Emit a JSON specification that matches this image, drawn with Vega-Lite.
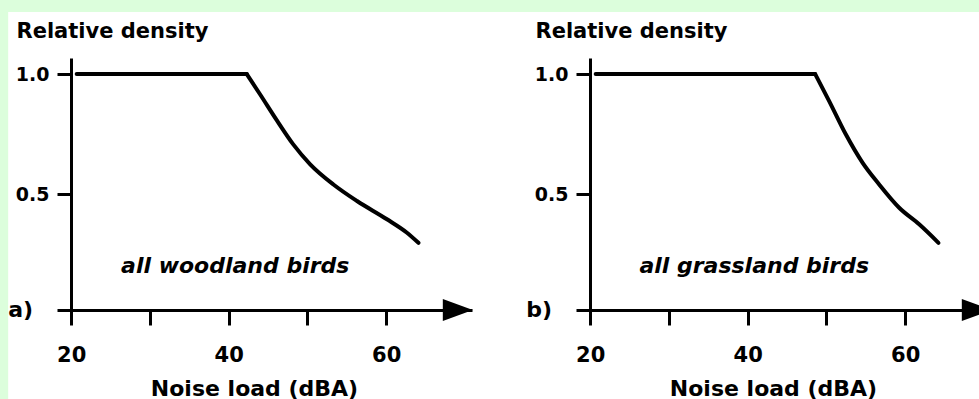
{
  "$schema": "https://vega.github.io/schema/vega-lite/v6.json",
  "background": "#dcfedc",
  "padding": {"left": 8, "top": 11, "right": 0, "bottom": 0},
  "bounds": "flush",
  "spacing": 104,
  "datasets": {
    "curves": [
      {"panel": "a", "segment": "flat", "noise": 20.7, "density": 1.0},
      {"panel": "a", "segment": "flat", "noise": 42.3, "density": 1.0},
      {"panel": "a", "segment": "decline", "noise": 42.3, "density": 1.0},
      {"panel": "a", "segment": "decline", "noise": 44.0, "density": 0.915},
      {"panel": "a", "segment": "decline", "noise": 46.1, "density": 0.808},
      {"panel": "a", "segment": "decline", "noise": 48.2, "density": 0.707},
      {"panel": "a", "segment": "decline", "noise": 50.35, "density": 0.624},
      {"panel": "a", "segment": "decline", "noise": 53.3, "density": 0.54},
      {"panel": "a", "segment": "decline", "noise": 56.3, "density": 0.471},
      {"panel": "a", "segment": "decline", "noise": 60.1, "density": 0.395},
      {"panel": "a", "segment": "decline", "noise": 62.6, "density": 0.34},
      {"panel": "a", "segment": "decline", "noise": 64.1, "density": 0.297},
      {"panel": "b", "segment": "flat", "noise": 20.7, "density": 1.0},
      {"panel": "b", "segment": "flat", "noise": 48.57, "density": 1.0},
      {"panel": "b", "segment": "decline", "noise": 48.57, "density": 1.0},
      {"panel": "b", "segment": "decline", "noise": 50.35, "density": 0.8875},
      {"panel": "b", "segment": "decline", "noise": 52.46, "density": 0.749},
      {"panel": "b", "segment": "decline", "noise": 54.58, "density": 0.631},
      {"panel": "b", "segment": "decline", "noise": 56.7, "density": 0.54},
      {"panel": "b", "segment": "decline", "noise": 59.24, "density": 0.443},
      {"panel": "b", "segment": "decline", "noise": 61.78, "density": 0.374},
      {"panel": "b", "segment": "decline", "noise": 64.23, "density": 0.297}
    ],
    "labels": [
      {"panel": "a", "tag": "a)", "caption": "all woodland birds"},
      {"panel": "b", "tag": "b)", "caption": "all grassland birds"}
    ]
  },
  "config": {
    "view": {"stroke": null},
    "font": "DejaVu Sans",
    "axis": {
      "domainColor": "black",
      "domainWidth": 3,
      "tickColor": "black",
      "tickWidth": 3,
      "labelColor": "black",
      "titleColor": "black",
      "labelFont": "DejaVu Sans",
      "titleFont": "DejaVu Sans",
      "labelFontWeight": "bold",
      "titleFontWeight": "bold",
      "grid": false
    }
  },
  "hconcat": [
    {
      "width": 415,
      "height": 252,
      "layer": [
        {
          "data": {"name": "labels"},
          "transform": [{"filter": "datum.panel === 'a'"}],
          "mark": {"type": "rect", "color": "white", "zindex": 0},
          "encoding": {
            "x": {"datum": 12.0, "type": "quantitative"},
            "x2": {"datum": 140},
            "y": {"datum": 1.2587, "type": "quantitative"},
            "y2": {"datum": -0.5}
          }
        },
        {
          "data": {"name": "curves"},
          "transform": [{"filter": "datum.panel === 'a'"}],
          "mark": {"type": "line", "interpolate": "monotone", "strokeWidth": 4, "color": "black", "strokeCap": "round", "strokeJoin": "miter", "zindex": 2},
          "encoding": {
            "x": {
              "field": "noise", "type": "quantitative",
              "scale": {"domain": [18.2, 70.9], "nice": false, "zero": false},
              "axis": {
                "zindex": 1,
                "title": "Noise load (dBA)",
                "values": [20, 30, 40, 50, 60],
                "format": "d",
                "labelExpr": "datum.value % 20 === 0 ? datum.label : ''",
                "tickSize": 15,
                "labelPadding": 36,
                "labelBaseline": "alphabetic",
                "labelFontSize": 21,
                "labelFlush": false,
                "labelOverlap": false,
                "titleFontSize": 22,
                "titleX": 197,
                "titleY": 85,
                "titleAlign": "center",
                "titleBaseline": "alphabetic"
              }
            },
            "y": {
              "field": "density", "type": "quantitative",
              "scale": {"domain": [0.017, 1.067], "nice": false, "zero": false},
              "axis": {
                "zindex": 1,
                "title": "Relative density",
                "values": [0.5, 1.0],
                "format": ".1f",
                "offset": -14,
                "tickSize": 14,
                "labelPadding": 8,
                "labelFontSize": 19,
                "labelBaseline": "middle",
                "labelFlush": false,
                "titleFontSize": 21,
                "titleAngle": 0,
                "titleAlign": "left",
                "titleBaseline": "alphabetic",
                "titleX": -55,
                "titleY": -20.5
              }
            },
            "detail": {"field": "segment"}
          }
        },
        {
          "data": {"name": "labels"},
          "transform": [{"filter": "datum.panel === 'a'"}],
          "mark": {"type": "point", "shape": "M-1,-0.73L1,0L-1,0.73Z", "size": 900, "filled": true, "color": "black", "opacity": 1, "zindex": 2},
          "encoding": {
            "x": {"datum": 69.1, "type": "quantitative"},
            "y": {"datum": 0.017, "type": "quantitative"}
          }
        },
        {
          "data": {"name": "labels"},
          "transform": [{"filter": "datum.panel === 'a'"}],
          "mark": {"type": "text", "align": "right", "baseline": "alphabetic", "fontSize": 22, "fontWeight": "bold", "color": "black", "zindex": 2},
          "encoding": {
            "x": {"datum": 15.17, "type": "quantitative"},
            "y": {"datum": -0.012, "type": "quantitative"},
            "text": {"field": "tag"}
          }
        },
        {
          "data": {"name": "labels"},
          "transform": [{"filter": "datum.panel === 'a'"}],
          "mark": {"type": "text", "align": "center", "baseline": "alphabetic", "fontSize": 22, "fontWeight": "bold", "fontStyle": "italic", "color": "black", "zindex": 2},
          "encoding": {
            "x": {"datum": 40.83, "type": "quantitative"},
            "y": {"datum": 0.171, "type": "quantitative"},
            "text": {"field": "caption"}
          }
        }
      ]
    },
    {
      "width": 415,
      "height": 252,
      "layer": [
        {
          "data": {"name": "curves"},
          "transform": [{"filter": "datum.panel === 'b'"}],
          "mark": {"type": "line", "interpolate": "monotone", "strokeWidth": 4, "color": "black", "strokeCap": "round", "strokeJoin": "miter"},
          "encoding": {
            "x": {
              "field": "noise", "type": "quantitative",
              "scale": {"domain": [18.2, 70.9], "nice": false, "zero": false},
              "axis": {
                "zindex": 1,
                "title": "Noise load (dBA)",
                "values": [20, 30, 40, 50, 60],
                "format": "d",
                "labelExpr": "datum.value % 20 === 0 ? datum.label : ''",
                "tickSize": 15,
                "labelPadding": 36,
                "labelBaseline": "alphabetic",
                "labelFontSize": 21,
                "labelFlush": false,
                "labelOverlap": false,
                "titleFontSize": 22,
                "titleX": 197,
                "titleY": 85,
                "titleAlign": "center",
                "titleBaseline": "alphabetic"
              }
            },
            "y": {
              "field": "density", "type": "quantitative",
              "scale": {"domain": [0.017, 1.067], "nice": false, "zero": false},
              "axis": {
                "zindex": 1,
                "title": "Relative density",
                "values": [0.5, 1.0],
                "format": ".1f",
                "offset": -14,
                "tickSize": 14,
                "labelPadding": 8,
                "labelFontSize": 19,
                "labelBaseline": "middle",
                "labelFlush": false,
                "titleFontSize": 21,
                "titleAngle": 0,
                "titleAlign": "left",
                "titleBaseline": "alphabetic",
                "titleX": -55,
                "titleY": -20.5
              }
            },
            "detail": {"field": "segment"}
          }
        },
        {
          "data": {"name": "labels"},
          "transform": [{"filter": "datum.panel === 'b'"}],
          "mark": {"type": "point", "shape": "M-1,-0.73L1,0L-1,0.73Z", "size": 900, "filled": true, "color": "black", "opacity": 1},
          "encoding": {
            "x": {"datum": 69.1, "type": "quantitative"},
            "y": {"datum": 0.017, "type": "quantitative"}
          }
        },
        {
          "data": {"name": "labels"},
          "transform": [{"filter": "datum.panel === 'b'"}],
          "mark": {"type": "text", "align": "right", "baseline": "alphabetic", "fontSize": 22, "fontWeight": "bold", "color": "black"},
          "encoding": {
            "x": {"datum": 15.17, "type": "quantitative"},
            "y": {"datum": -0.012, "type": "quantitative"},
            "text": {"field": "tag"}
          }
        },
        {
          "data": {"name": "labels"},
          "transform": [{"filter": "datum.panel === 'b'"}],
          "mark": {"type": "text", "align": "center", "baseline": "alphabetic", "fontSize": 22, "fontWeight": "bold", "fontStyle": "italic", "color": "black"},
          "encoding": {
            "x": {"datum": 40.83, "type": "quantitative"},
            "y": {"datum": 0.171, "type": "quantitative"},
            "text": {"field": "caption"}
          }
        }
      ]
    }
  ]
}
